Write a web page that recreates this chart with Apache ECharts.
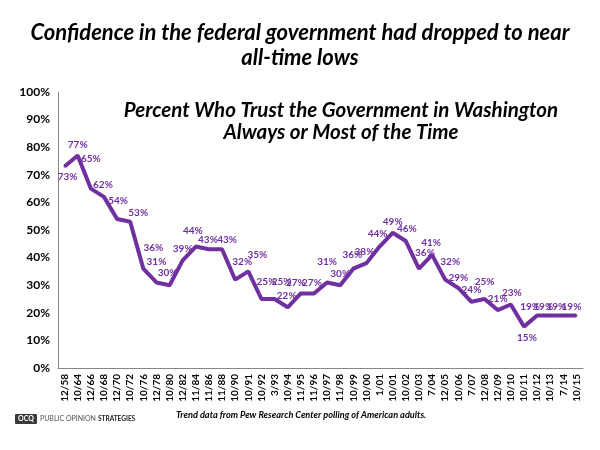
<!DOCTYPE html>
<html><head><meta charset="utf-8">
<script src="https://cdn.jsdelivr.net/npm/echarts@6/dist/echarts.min.js"></script>
<style>html,body{margin:0;padding:0;background:#fff}#c{width:600px;height:450px}</style>
</head><body><div id="c"></div>
<script>
const categories = ['12/58','10/64','12/66','10/68','12/70','10/72','10/76','12/78','10/80','12/82','11/84','11/86','11/88','10/90','10/91','10/92','3/93','10/94','11/95','11/96','10/97','11/98','10/99','10/00','1/01','10/01','10/02','10/03','7/04','12/05','10/06','7/07','12/08','12/09','10/10','10/11','10/12','10/13','7/14','10/15'];
const trustValues = [73,77,65,62,54,53,36,31,30,39,44,43,43,32,35,25,25,22,27,27,31,30,36,38,44,49,46,36,41,32,29,24,25,21,23,15,19,19,19,19];
const yTicks = [0,10,20,30,40,50,60,70,80,90,100];

// label centre shift from its point, in px (style only)
const labelShift = [
  [3,10],[0,-11],[0,-30],[-1,-12],[1,-18],[8,-9],[10,-21],[0,-21],[-2,-12],[0,-12],
  [-3,-16],[-1,-10],[5,-10],[7,-18],[9,-17],[5,-17],[7,-17],[-1,-11],[-5,-11],[-2,-11],
  [0,-21],[0,-11],[-1,-14],[-2,-11],[-2,-13],[0,-11],[1,-12],[6,-16],[-1,-12],[5,-18],
  [0,-10],[0,-12],[0,-17],[0,-11],[1,-12],[3,11],[-7,-9],[-7,-9],[-7,-9],[-5,-9]
];
const purple = '#7030A0';
const SYM = 2;
const seriesData = trustValues.map((v,i)=>({
  value:v,
  label:{position:[SYM/2+labelShift[i][0], SYM/2+labelShift[i][1]],align:'center',verticalAlign:'middle'}
}));

const chart = echarts.init(document.getElementById('c'));
chart.setOption({
  animation:false,
  title:[
    {text:'Confidence in the federal government had dropped to near\nall-time lows',left:'center',top:15,
     textStyle:{fontFamily:'Lato',fontWeight:'bold',fontStyle:'italic',fontSize:22,lineHeight:25,color:'#000'}},
    {text:'Percent Who Trust the Government in Washington\nAlways or Most of the Time',left:336,textAlign:'center',top:94,
     textStyle:{fontFamily:'Lato',fontWeight:'bold',fontStyle:'italic',fontSize:20.5,lineHeight:22,color:'#000'}}
  ],
  grid:{left:58,right:17,top:92,bottom:82},
  xAxis:{type:'category',data:categories,boundaryGap:true,
    axisLine:{lineStyle:{color:'#868686'}},axisTick:{show:false},
    axisLabel:{rotate:90,interval:0,fontFamily:'Lato',fontWeight:'bold',fontSize:10,color:'#000',margin:6}},
  yAxis:{type:'value',min:0,max:100,interval:10,
    axisLine:{show:true,lineStyle:{color:'#868686'}},axisTick:{show:false},splitLine:{show:false},
    axisLabel:{formatter:v=>yTicks.includes(v)?v+'%':'',fontFamily:'Lato',fontWeight:'bold',fontSize:12,color:'#000',margin:8}},
  series:[{type:'line',data:seriesData,symbol:'circle',symbolSize:SYM,showSymbol:true,showAllSymbol:true,
    itemStyle:{color:purple,borderWidth:0},
    lineStyle:{color:purple,width:4},
    labelLayout:{hideOverlap:false},
    label:{show:true,formatter:'{c}%',color:purple,fontFamily:'Lato',fontSize:10,fontWeight:'bold'}}],
  graphic:[
    {type:'group',left:15,top:414,children:[
      {type:'rect',shape:{x:0,y:0,width:22,height:10,r:1},style:{fill:'#3a3a3a'}},
      {type:'text',x:11,y:5,style:{text:'OCQ',fill:'#fff',font:'bold 7px Lato',align:'center',verticalAlign:'middle'}},
      {type:'text',x:25,y:5,style:{text:'PUBLIC OPINION',fill:'#555',font:'7px Lato',verticalAlign:'middle'}},
      {type:'text',x:83,y:5,style:{text:'STRATEGIES',fill:'#222',font:'bold 6.5px Lato',verticalAlign:'middle'}}
    ]},
    {type:'text',left:176,top:411,style:{text:'Trend data from Pew Research Center polling of American adults.',fill:'#000',font:'italic bold 9.2px Lato'}}
  ]
});
</script></body></html>
